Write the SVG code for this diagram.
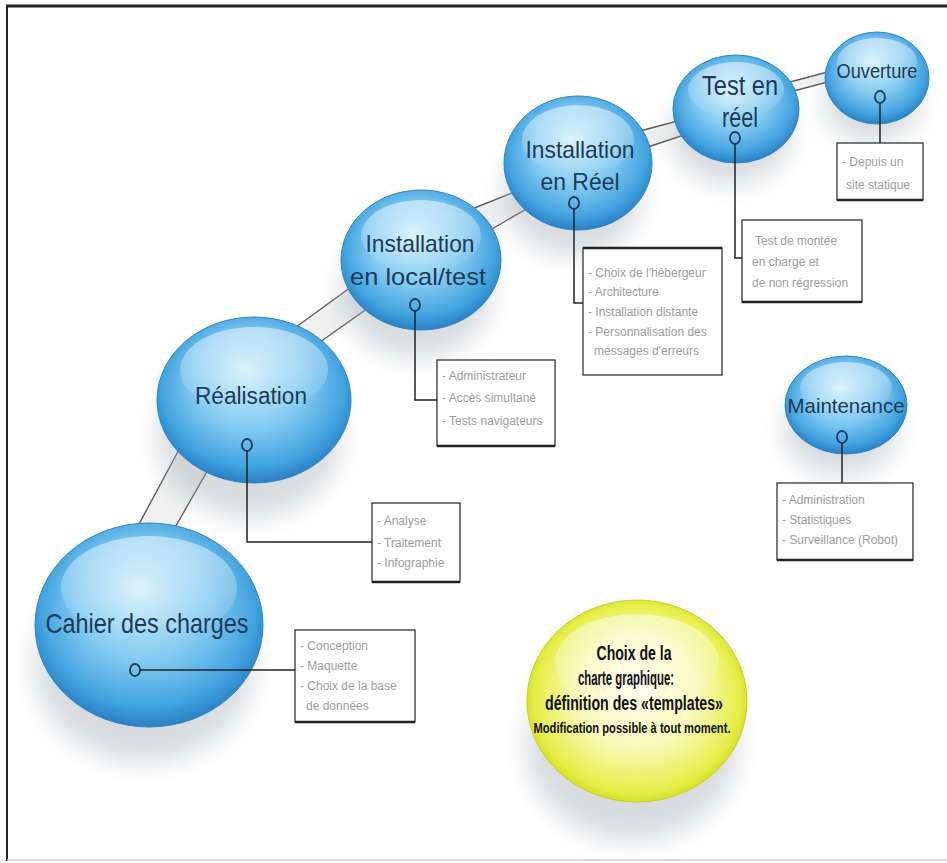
<svg xmlns="http://www.w3.org/2000/svg" width="947" height="863" viewBox="0 0 947 863">
<defs>
  <radialGradient id="gBlue" cx="0.5" cy="0.45" r="0.55" fx="0.45" fy="0.32">
    <stop offset="0" stop-color="#cdedfb"/>
    <stop offset="0.5" stop-color="#86ccf2"/>
    <stop offset="0.85" stop-color="#42a3df"/>
    <stop offset="1" stop-color="#2a80c4"/>
  </radialGradient>
  <radialGradient id="gYel" cx="0.5" cy="0.5" r="0.55" fx="0.5" fy="0.42">
    <stop offset="0" stop-color="#fffff2"/>
    <stop offset="0.5" stop-color="#f8f9b8"/>
    <stop offset="0.85" stop-color="#e6ee45"/>
    <stop offset="1" stop-color="#c2cc12"/>
  </radialGradient>
  <linearGradient id="gHi" x1="0" y1="0" x2="0" y2="1">
    <stop offset="0" stop-color="#ffffff" stop-opacity="0.5"/>
    <stop offset="1" stop-color="#ffffff" stop-opacity="0"/>
  </linearGradient>
  <filter id="fBlur" x="-60%" y="-60%" width="220%" height="220%">
    <feGaussianBlur stdDeviation="12"/>
  </filter>
  <style>
    .shadow{fill:#9ea7b0;opacity:0.4;filter:url(#fBlur);}
    .bubble{fill:url(#gBlue);stroke:#2f86c6;stroke-width:1;}
    .yellow{fill:url(#gYel);stroke:#c9d21c;stroke-width:1;}
    .hi{fill:url(#gHi);}
    .lbl{font-family:"Liberation Sans",Arial,sans-serif;fill:#1d3a58;text-anchor:middle;}
    .ylbl{font-family:"Liberation Sans",Arial,sans-serif;font-weight:bold;fill:#111;text-anchor:middle;}
    .dot{fill:none;stroke:#1d3a58;stroke-width:1.8;}
    .box{fill:#ffffff;stroke:#333;stroke-width:1.3;}
    .boxb{stroke:#222;stroke-width:2.5;}
    .boxtxt{font-family:"Liberation Sans",Arial,sans-serif;font-size:12px;fill:#9c9c9c;}
    .lead{fill:none;stroke:#222;stroke-width:1.5;}
    .tube{fill:#ececec;opacity:0.8;}
    .tl{stroke:#5a5a5a;stroke-width:1.4;}
  </style>
</defs>

<rect x="0" y="0" width="947" height="863" fill="#ffffff"/>
<g id="frame">
  <line x1="6" y1="6" x2="947" y2="6" stroke="#222" stroke-width="3"/>
  <line x1="7" y1="5" x2="7" y2="861" stroke="#222" stroke-width="2"/>
  <line x1="7" y1="860" x2="947" y2="860" stroke="#cfcfcf" stroke-width="1.5"/>
</g>

<g id="connectors-tube">
  <polygon class="tube" points="125,550 195,420 225,440 165,545"/>
  <line class="tl" x1="125" y1="550" x2="195" y2="420"/>
  <line class="tl" x1="165" y1="545" x2="225" y2="440"/>
  <polygon class="tube" points="292,330 362,279 378,301 313,347"/>
  <line class="tl" x1="292" y1="330" x2="362" y2="279"/>
  <line class="tl" x1="313" y1="347" x2="378" y2="301"/>
  <polygon class="tube" points="467,211 527,187 535,204 485,233"/>
  <line class="tl" x1="467" y1="211" x2="527" y2="187"/>
  <line class="tl" x1="485" y1="233" x2="535" y2="204"/>
  <polygon class="tube" points="640,131 685,119 690,133 645,148"/>
  <line class="tl" x1="640" y1="131" x2="685" y2="119"/>
  <line class="tl" x1="645" y1="148" x2="690" y2="133"/>
  <polygon class="tube" points="790,82 835,70 835,80 790,92"/>
  <line class="tl" x1="790" y1="82" x2="835" y2="70"/>
  <line class="tl" x1="790" y1="92" x2="835" y2="80"/>
</g>

<g id="node-cahier">
  <ellipse class="shadow" cx="144" cy="665" rx="110" ry="98"/>
  <ellipse class="bubble" cx="149" cy="625" rx="114" ry="102"/>
  <ellipse class="hi" cx="149" cy="588" rx="88" ry="52"/>
  <text class="lbl" x="147" y="633" font-size="28" textLength="203" lengthAdjust="spacingAndGlyphs">Cahier des charges</text>
  <ellipse class="dot" cx="135" cy="670" rx="5" ry="6"/>
</g>

<g id="node-realisation">
  <ellipse class="shadow" cx="249" cy="438" rx="92" ry="80"/>
  <ellipse class="bubble" cx="254" cy="400" rx="97" ry="83"/>
  <ellipse class="hi" cx="254" cy="370" rx="74" ry="43"/>
  <text class="lbl" x="251" y="404" font-size="23" textLength="112" lengthAdjust="spacingAndGlyphs">Réalisation</text>
  <ellipse class="dot" cx="247" cy="445" rx="5" ry="6"/>
</g>

<g id="node-local">
  <ellipse class="shadow" cx="416" cy="292" rx="76" ry="66"/>
  <ellipse class="bubble" cx="421" cy="260" rx="80" ry="70"/>
  <ellipse class="hi" cx="421" cy="236" rx="60" ry="36"/>
  <text class="lbl" x="420" y="252" font-size="24" textLength="109" lengthAdjust="spacingAndGlyphs">Installation</text>
  <text class="lbl" x="418" y="285" font-size="24" textLength="136" lengthAdjust="spacingAndGlyphs">en local/test</text>
  <ellipse class="dot" cx="415" cy="305" rx="5" ry="6"/>
</g>

<g id="node-reel">
  <ellipse class="shadow" cx="573" cy="193" rx="70" ry="63"/>
  <ellipse class="bubble" cx="578" cy="163" rx="74" ry="67"/>
  <ellipse class="hi" cx="578" cy="140" rx="56" ry="35"/>
  <text class="lbl" x="580" y="158" font-size="24" textLength="109" lengthAdjust="spacingAndGlyphs">Installation</text>
  <text class="lbl" x="580" y="190" font-size="24" textLength="79" lengthAdjust="spacingAndGlyphs">en Réel</text>
  <ellipse class="dot" cx="574" cy="203" rx="5" ry="6"/>
</g>

<g id="node-test">
  <ellipse class="shadow" cx="731" cy="134" rx="60" ry="51"/>
  <ellipse class="bubble" cx="736" cy="109" rx="63" ry="54"/>
  <ellipse class="hi" cx="736" cy="90" rx="48" ry="28"/>
  <text class="lbl" x="740" y="95" font-size="27" textLength="76" lengthAdjust="spacingAndGlyphs">Test en</text>
  <text class="lbl" x="740" y="127" font-size="27" textLength="36" lengthAdjust="spacingAndGlyphs">réel</text>
  <ellipse class="dot" cx="735" cy="138" rx="5" ry="6"/>
</g>

<g id="node-ouverture">
  <ellipse class="shadow" cx="872" cy="100" rx="49" ry="43"/>
  <ellipse class="bubble" cx="877" cy="78" rx="52" ry="46"/>
  <ellipse class="hi" cx="877" cy="62" rx="40" ry="24"/>
  <text class="lbl" x="877" y="78" font-size="20" textLength="81" lengthAdjust="spacingAndGlyphs">Ouverture</text>
  <ellipse class="dot" cx="880" cy="97" rx="5" ry="6"/>
</g>

<g id="node-maintenance">
  <ellipse class="shadow" cx="841" cy="430" rx="58" ry="46"/>
  <ellipse class="bubble" cx="846" cy="405" rx="61" ry="49"/>
  <ellipse class="hi" cx="846" cy="388" rx="46" ry="26"/>
  <text class="lbl" x="846" y="413" font-size="21" textLength="117" lengthAdjust="spacingAndGlyphs">Maintenance</text>
  <ellipse class="dot" cx="842" cy="437" rx="5" ry="6"/>
</g>

<g id="node-charte">
  <ellipse class="shadow" cx="632" cy="745" rx="106" ry="96"/>
  <ellipse class="yellow" cx="637" cy="701" rx="110" ry="101"/>
  <ellipse class="hi" cx="637" cy="662" rx="82" ry="48"/>
  <text class="ylbl" x="634" y="660" font-size="20" textLength="75" lengthAdjust="spacingAndGlyphs">Choix de la</text>
  <text class="ylbl" x="626" y="685" font-size="20" textLength="96" lengthAdjust="spacingAndGlyphs">charte graphique:</text>
  <text class="ylbl" x="634" y="710" font-size="20" textLength="178" lengthAdjust="spacingAndGlyphs">définition des «templates»</text>
  <text class="ylbl" x="632" y="733" font-size="14" textLength="197" lengthAdjust="spacingAndGlyphs">Modification possible à tout moment.</text>
</g>

<g id="connectors-leaders">
  <polyline class="lead" points="140,670 295,670"/>
  <polyline class="lead" points="247,451 247,542 372,542"/>
  <polyline class="lead" points="415,311 415,400 437,400"/>
  <polyline class="lead" points="574,209 574,303 583,303"/>
  <polyline class="lead" points="735,144 735,258 742,258"/>
  <polyline class="lead" points="880,103 880,143"/>
  <polyline class="lead" points="842,443 842,483"/>
</g>

<g id="box-cahier">
  <rect class="box" x="295" y="630" width="120" height="92"/>
  <line class="boxb" x1="295" y1="722" x2="415" y2="722"/>
  <text class="boxtxt" x="300" y="650">- Conception</text>
  <text class="boxtxt" x="300" y="670">- Maquette</text>
  <text class="boxtxt" x="300" y="690">- Choix de la base</text>
  <text class="boxtxt" x="306" y="710">de données</text>
</g>

<g id="box-realisation">
  <rect class="box" x="372" y="503" width="88" height="79"/>
  <line class="boxb" x1="372" y1="582" x2="460" y2="582"/>
  <text class="boxtxt" x="377" y="525">- Analyse</text>
  <text class="boxtxt" x="377" y="547">- Traitement</text>
  <text class="boxtxt" x="377" y="567">- Infographie</text>
</g>

<g id="box-local">
  <rect class="box" x="437" y="360" width="118" height="86"/>
  <line class="boxb" x1="437" y1="446" x2="555" y2="446"/>
  <text class="boxtxt" x="442" y="380">- Administrateur</text>
  <text class="boxtxt" x="442" y="402">- Accès simultané</text>
  <text class="boxtxt" x="442" y="425">- Tests navigateurs</text>
</g>

<g id="box-reel">
  <rect class="box" x="583" y="248" width="139" height="127"/>
  <line class="boxb" x1="583" y1="248" x2="722" y2="248"/>
  <text class="boxtxt" x="588" y="277">- Choix de l'hébergeur</text>
  <text class="boxtxt" x="588" y="296">- Architecture</text>
  <text class="boxtxt" x="588" y="316">- Installation distante</text>
  <text class="boxtxt" x="588" y="336">- Personnalisation des</text>
  <text class="boxtxt" x="594" y="355">messages d'erreurs</text>
</g>

<g id="box-test">
  <rect class="box" x="742" y="220" width="120" height="82"/>
  <line class="boxb" x1="742" y1="302" x2="862" y2="302"/>
  <text class="boxtxt" x="755" y="245">Test de montée</text>
  <text class="boxtxt" x="752" y="266">en charge et</text>
  <text class="boxtxt" x="752" y="287">de non régression</text>
</g>

<g id="box-ouverture">
  <rect class="box" x="837" y="143" width="86" height="57"/>
  <line class="boxb" x1="837" y1="200" x2="923" y2="200"/>
  <text class="boxtxt" x="842" y="166">- Depuis un</text>
  <text class="boxtxt" x="846" y="189">site statique</text>
</g>

<g id="box-maintenance">
  <rect class="box" x="777" y="483" width="136" height="77"/>
  <line class="boxb" x1="777" y1="560" x2="913" y2="560"/>
  <text class="boxtxt" x="782" y="504">- Administration</text>
  <text class="boxtxt" x="782" y="524">- Statistiques</text>
  <text class="boxtxt" x="782" y="544">- Surveillance (Robot)</text>
</g>
</svg>
